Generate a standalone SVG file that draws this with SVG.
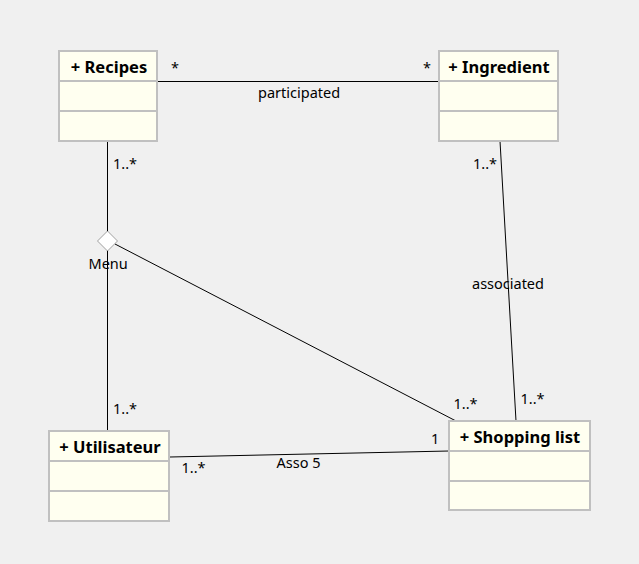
<svg xmlns="http://www.w3.org/2000/svg" width="639" height="564" viewBox="0 0 639 564">
<style>
.box{fill:#fffff0;stroke:#c0c0c0;stroke-width:2}
.div{stroke:#c0c0c0;stroke-width:2}
.title{font-family:"Noto Sans",sans-serif;font-weight:bold;font-size:16.5px;fill:#000;text-anchor:middle}
.lbl{font-family:"Noto Sans",sans-serif;font-size:14.5px;fill:#000}
.ln{stroke:#000;stroke-width:1;fill:none}
</style>
<rect width="639" height="564" fill="#f0f0f0"/>
<g id="connectors">
<line class="ln" x1="157" y1="81.5" x2="439" y2="81.5"/>
<line class="ln" x1="107.5" y1="141" x2="107.5" y2="431"/>
<line class="ln" x1="115" y1="244" x2="456" y2="421"/>
<line class="ln" x1="500" y1="141" x2="516" y2="421"/>
<line class="ln" x1="170" y1="457" x2="449" y2="451"/>
<polygon id="menu-diamond" points="107.5,231 117.5,241 107.5,251 97.5,241" fill="#fff" stroke="#a0a0a0" stroke-width="1"/>
<text class="lbl" x="171" y="73">*</text>
<text class="lbl" x="423" y="73">*</text>
<text class="lbl" x="258" y="98">participated</text>
<text class="lbl" x="113" y="168.5">1..*</text>
<text class="lbl" x="473" y="168.5">1..*</text>
<text class="lbl" x="88.5" y="269">Menu</text>
<text class="lbl" x="472" y="288.5">associated</text>
<text class="lbl" x="113" y="414">1..*</text>
<text class="lbl" x="453.5" y="409">1..*</text>
<text class="lbl" x="520.5" y="404">1..*</text>
<text class="lbl" x="431" y="444">1</text>
<text class="lbl" x="181.5" y="472.5">1..*</text>
<text class="lbl" x="276.5" y="468">Asso 5</text>
</g>
<g id="recipes">
<rect class="box" x="59" y="51" width="98" height="90"/>
<line class="div" x1="59" y1="81" x2="157" y2="81"/>
<line class="div" x1="59" y1="111" x2="157" y2="111"/>
<text class="title" x="109" y="72.5">+ Recipes</text>
</g>
<g id="ingredient">
<rect class="box" x="439" y="51" width="119" height="90"/>
<line class="div" x1="439" y1="81" x2="558" y2="81"/>
<line class="div" x1="439" y1="111" x2="558" y2="111"/>
<text class="title" x="499" y="72.5">+ Ingredient</text>
</g>
<g id="utilisateur">
<rect class="box" x="49" y="431" width="120" height="90"/>
<line class="div" x1="49" y1="461" x2="169" y2="461"/>
<line class="div" x1="49" y1="491" x2="169" y2="491"/>
<text class="title" x="110" y="452.5">+ Utilisateur</text>
</g>
<g id="shopping-list">
<rect class="box" x="449" y="421" width="141" height="89"/>
<line class="div" x1="449" y1="451" x2="590" y2="451"/>
<line class="div" x1="449" y1="481" x2="590" y2="481"/>
<text class="title" x="520" y="442.5">+ Shopping list</text>
</g>
</svg>
